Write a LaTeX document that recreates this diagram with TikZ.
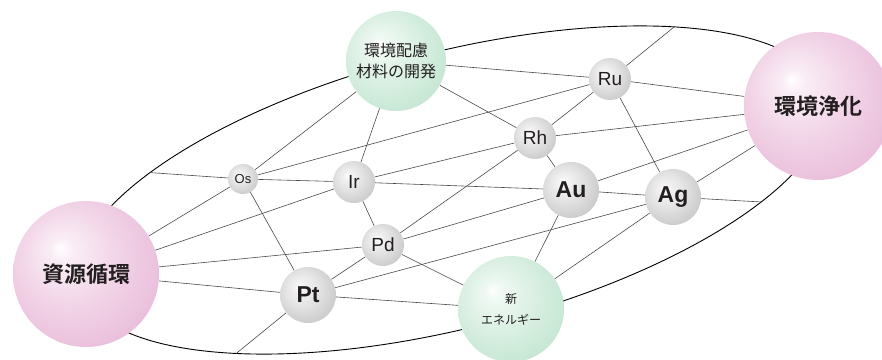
\documentclass[tikz,border=0pt]{standalone}
\usepackage{fontspec}
\setmainfont{Liberation Sans}
\newfontfamily\jp[BoldFont={Noto Sans CJK JP Bold}]{Noto Sans CJK JP}
\definecolor{lineC}{HTML}{4A4A4A}
\definecolor{textC}{HTML}{231F20}
\definecolor{pinkE}{HTML}{E6B6D6}
\definecolor{pinkM}{HTML}{F1D2E6}
\definecolor{greenE}{HTML}{BDE3CC}
\definecolor{greenM}{HTML}{D8EFE1}
\definecolor{greyE}{HTML}{C4C2C2}
\definecolor{greyM}{HTML}{E3E2E2}
\pgfdeclareradialshading{pinkball}{\pgfqpoint{-9bp}{9bp}}{color(0bp)=(white); color(4bp)=(white!60!pinkM); color(18bp)=(pinkM); color(36bp)=(pinkE); color(50bp)=(pinkE)}
\pgfdeclareradialshading{greenball}{\pgfqpoint{-9bp}{9bp}}{color(0bp)=(white); color(4bp)=(white!60!greenM); color(18bp)=(greenM); color(36bp)=(greenE); color(50bp)=(greenE)}
\pgfdeclareradialshading{greyball}{\pgfqpoint{-8bp}{8bp}}{color(0bp)=(white); color(4bp)=(white!60!greyM); color(16bp)=(greyM); color(34bp)=(greyE); color(50bp)=(greyE)}
\pgfdeclarelayer{background}
\pgfsetlayers{background,main}
\begin{document}
\begin{tikzpicture}[x=1pt,y=1pt,
  conn/.style={draw=lineC, line width=0.6pt},
  ball/.style={circle, inner sep=0pt, minimum size=#1, text=textC, align=center},
  pinkb/.style={ball=#1, shading=pinkball},
  greenb/.style={ball=#1, shading=greenball},
  greyb/.style={ball=#1, shading=greyball},
  elemR/.style={font=\fontsize{#1}{#1}\selectfont},
  elemB/.style={font=\fontsize{#1}{#1}\selectfont\bfseries}
]
\useasboundingbox (0,0) rectangle (882,-359);

% nodes
\node[pinkb=146pt, font=\jp\bfseries\fontsize{22}{25}\selectfont] (PA) at (86,-274) {資源循環};
\node[pinkb=148pt, font=\jp\bfseries\fontsize{22}{25}\selectfont] (PB) at (818,-106) {環境浄化};
\node[greenb=100pt, font=\jp\fontsize{16}{21}\selectfont] (GA) at (396,-61) {環境配慮\\材料の開発};
\node[greenb=106pt, font=\jp\fontsize{12}{21}\selectfont] (GB) at (511,-309) {新\\エネルギー};
\node[greyb=30pt, elemR=13] (Os) at (243,-179) {Os};
\node[greyb=42pt, elemR=19] (Ir) at (354,-182) {Ir};
\node[greyb=42pt, elemR=19] (Pd) at (383,-245) {Pd};
\node[greyb=56pt, elemB=23] (Pt) at (308,-295) {Pt};
\node[greyb=42pt, elemR=19] (Rh) at (535,-138) {Rh};
\node[greyb=56pt, elemB=23] (Au) at (571,-190) {Au};
\node[greyb=56pt, elemB=23] (Ag) at (673,-197) {Ag};
\node[greyb=42pt, elemR=19] (Ru) at (610,-79) {Ru};

\begin{pgfonlayer}{background}
\fill[white] (0,0) rectangle (882,-359);
\begin{scope}[shift={(452,-190)}, rotate=14.3]
  \draw[black, line width=0.9pt] (0,0) ellipse [x radius=385, y radius=138];
  \coordinate (E1) at ({385*cos(138.5)},{138*sin(138.5)});
  \coordinate (E2) at ({385*cos(229.6)},{138*sin(229.6)});
  \coordinate (E3) at ({385*cos(48.4)},{138*sin(48.4)});
  \coordinate (E4) at ({385*cos(-39.6)},{138*sin(-39.6)});
\end{scope}
\draw[conn] (Os) -- (E1);
\draw[conn] (Os) -- (GA);
\draw[conn] (Os) -- (Ru);
\draw[conn] (Os) -- (Ir);
\draw[conn] (Os) -- (PA);
\draw[conn] (Os) -- (Pt);
\draw[conn] (Ir) -- (GA);
\draw[conn] (Ir) -- (Rh);
\draw[conn] (Ir) -- (Au);
\draw[conn] (Ir) -- (PA);
\draw[conn] (Ir) -- (Pd);
\draw[conn] (Pd) -- (PA);
\draw[conn] (Pd) -- (Pt);
\draw[conn] (Pd) -- (Rh);
\draw[conn] (Pd) -- (Au);
\draw[conn] (Pd) -- (GB);
\draw[conn] (Pt) -- (PA);
\draw[conn] (Pt) -- (E2);
\draw[conn] (Pt) -- (GB);
\draw[conn] (Pt) -- (Ag);
\draw[conn] (GA) -- (Ru);
\draw[conn] (GA) -- (Rh);
\draw[conn] (Ru) -- (PB);
\draw[conn] (Ru) -- (E3);
\draw[conn] (Ru) -- (Rh);
\draw[conn] (Ru) -- (Ag);
\draw[conn] (Rh) -- (PB);
\draw[conn] (Rh) -- (Au);
\draw[conn] (Au) -- (PB);
\draw[conn] (Au) -- (Ag);
\draw[conn] (Au) -- (GB);
\draw[conn] (Ag) -- (PB);
\draw[conn] (Ag) -- (E4);
\draw[conn] (Ag) -- (GB);
\end{pgfonlayer}
\end{tikzpicture}
\end{document}
